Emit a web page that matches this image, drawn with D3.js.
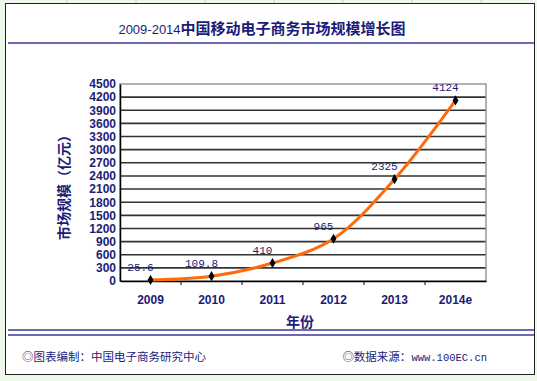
<!DOCTYPE html>
<html>
<head>
<meta charset="utf-8">
<script src="https://cdn.jsdelivr.net/npm/d3@7"></script>
<style>
  html, body { margin: 0; padding: 0; background: #eef8ea; }
  svg { display: block; }
</style>
</head>
<body>
<svg id="chart"></svg>
<script>
const width = 537;
const height = 381;

// données
const years = ["2009", "2010", "2011", "2012", "2013", "2014e"];
const values = [25.6, 109.8, 410, 965, 2325, 4124];
const labels = ["25.6", "109.8", "410", "965", "2325", "4124"];
const yTicks = d3.range(0, 4501, 300);

const navy = "#1c1c78";

const svg = d3.select("#chart")
  .attr("width", width)
  .attr("height", height);

// lignes de la feuille en haut
svg.append("g").selectAll("line")
  .data(d3.range(67, 537, 69))
  .enter().append("line")
  .attr("x1", d => d).attr("x2", d => d)
  .attr("y1", 0).attr("y2", 3)
  .attr("stroke", "#c8d0c8");

// cadre
svg.append("rect")
  .attr("x", 5.5).attr("y", 3.5)
  .attr("width", 529).attr("height", 371)
  .attr("fill", "#fff")
  .attr("stroke", "#222").attr("stroke-width", 1);

// titre
const title = svg.append("text")
  .attr("x", 262).attr("y", 34)
  .attr("text-anchor", "middle")
  .attr("fill", navy);
title.append("tspan")
  .attr("font-family", "Liberation Sans, Arial, sans-serif")
  .attr("font-size", 13)
  .text("2009-2014");
title.append("tspan")
  .attr("font-family", "Noto Sans CJK SC, sans-serif")
  .attr("font-weight", "bold")
  .attr("font-size", 15)
  .text("中国移动电子商务市场规模增长图");

svg.append("line")
  .attr("x1", 8).attr("x2", 534)
  .attr("y1", 43).attr("y2", 43)
  .attr("stroke", "#3a3a9a").attr("stroke-width", 1.5);

[330, 335].forEach(y => {
  svg.append("line")
    .attr("x1", 8).attr("x2", 534)
    .attr("y1", y).attr("y2", y)
    .attr("stroke", "#3a3a9a").attr("stroke-width", 1.3);
});

// zone du graphique
const plot = { left: 120, right: 486, top: 84, bottom: 281 };

const x = d3.scaleBand()
  .domain(years)
  .range([plot.left, plot.right]);

const y = d3.scaleLinear()
  .domain([0, 4500])
  .range([plot.bottom, plot.top]);

// grille
svg.append("g").selectAll("line")
  .data(yTicks.filter(d => d > 0 && d < 4500))
  .enter().append("line")
  .attr("x1", plot.left).attr("x2", plot.right)
  .attr("y1", d => y(d)).attr("y2", d => y(d))
  .attr("stroke", "#333").attr("stroke-width", 1.6);

svg.append("rect")
  .attr("x", plot.left).attr("y", plot.top)
  .attr("width", plot.right - plot.left).attr("height", plot.bottom - plot.top)
  .attr("fill", "none")
  .attr("stroke", "#999").attr("stroke-width", 1.5);

// axes
const yAxis = svg.append("g")
  .attr("transform", `translate(${plot.left},0)`)
  .call(d3.axisLeft(y).tickValues(yTicks).tickFormat(d3.format("d")).tickSize(0).tickPadding(4));
yAxis.select(".domain").attr("stroke", "#000").attr("stroke-width", 1.5);
yAxis.selectAll("text")
  .attr("font-family", "Liberation Sans, Arial, sans-serif")
  .attr("font-weight", "bold")
  .attr("font-size", 12)
  .attr("fill", navy);

const xAxis = svg.append("g")
  .attr("transform", `translate(0,${plot.bottom})`)
  .call(d3.axisBottom(x).tickSize(0).tickPadding(14));
xAxis.select(".domain").attr("stroke", "#000").attr("stroke-width", 1.5);
xAxis.selectAll("text")
  .attr("font-family", "Liberation Sans, Arial, sans-serif")
  .attr("font-weight", "bold")
  .attr("font-size", 12)
  .attr("fill", navy);

// petites graduations entre les catégories
svg.append("g").selectAll("line")
  .data(years.slice(1))
  .enter().append("line")
  .attr("x1", d => x(d)).attr("x2", d => x(d))
  .attr("y1", plot.bottom).attr("y2", plot.bottom + 4)
  .attr("stroke", "#000");

// titres des axes
svg.append("text")
  .attr("transform", "translate(69,184) rotate(-90)")
  .attr("text-anchor", "middle")
  .attr("font-family", "Noto Sans CJK SC, sans-serif")
  .attr("font-weight", "bold")
  .attr("font-size", 14)
  .attr("fill", navy)
  .text("市场规模（亿元）");

svg.append("text")
  .attr("x", 300).attr("y", 327)
  .attr("text-anchor", "middle")
  .attr("font-family", "Noto Sans CJK SC, sans-serif")
  .attr("font-weight", "bold")
  .attr("font-size", 14)
  .attr("fill", navy)
  .text("年份");

// courbe
const cx = d => x(d) + x.bandwidth() / 2;
const line = d3.line()
  .x((d, i) => cx(years[i]))
  .y(d => y(d))
  .curve(d3.curveCatmullRom.alpha(0.5));

svg.append("path")
  .datum(values)
  .attr("d", line)
  .attr("fill", "none")
  .attr("stroke", "#ff6a0a")
  .attr("stroke-width", 3);

// marqueurs
svg.append("g").selectAll("path")
  .data(values)
  .enter().append("path")
  .attr("d", d3.symbol().type(d3.symbolDiamond).size(30))
  .attr("transform", (d, i) => `translate(${cx(years[i])},${y(d)})`)
  .attr("fill", "#000");

// étiquettes
svg.append("g").selectAll("text")
  .data(values)
  .enter().append("text")
  .attr("x", (d, i) => cx(years[i]) - 10)
  .attr("y", d => y(d) - 9)
  .attr("text-anchor", "middle")
  .attr("font-family", "Liberation Mono, DejaVu Sans Mono, monospace")
  .attr("font-size", 11)
  .attr("fill", navy)
  .text((d, i) => labels[i]);

// pied de page
svg.append("text")
  .attr("x", 22).attr("y", 361)
  .attr("font-family", "Noto Sans CJK SC, sans-serif")
  .attr("font-size", 11.5)
  .attr("fill", navy)
  .text("◎图表编制：中国电子商务研究中心");

const src = svg.append("text")
  .attr("x", 487).attr("y", 361)
  .attr("text-anchor", "end")
  .attr("fill", navy);
src.append("tspan")
  .attr("font-family", "Noto Sans CJK SC, sans-serif")
  .attr("font-size", 11.5)
  .text("◎数据来源：");
src.append("tspan")
  .attr("font-family", "Liberation Mono, monospace")
  .attr("font-size", 10.5)
  .text("www.100EC.cn");
</script>
</body>
</html>
